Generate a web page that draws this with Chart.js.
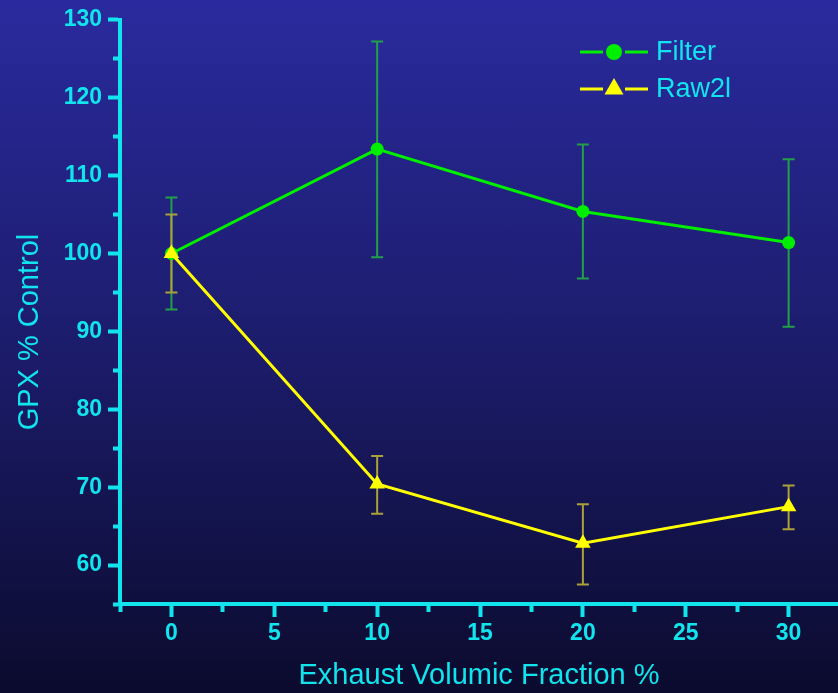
<!DOCTYPE html>
<html>
<head>
<meta charset="utf-8">
<script src="https://cdn.jsdelivr.net/npm/chart.js@4.4.1/dist/chart.umd.min.js"></script>
<style>
  html, body { margin: 0; padding: 0; }
  body { background: linear-gradient(to bottom, #2a2a9e 0%, #1c1c6c 50%, #0b0b2e 100%); width: 838px; height: 693px; }
  #wrap { width: 838px; height: 693px; }
</style>
</head>
<body>
<div id="wrap"><canvas id="gpxChart" width="838" height="693"></canvas></div>
<script>
// data
var fractions = [0, 10, 20, 30];
var filterMean = [100, 113.4, 105.4, 101.4];
var filterLow = [92.8, 99.5, 96.8, 90.6];
var filterHigh = [107.2, 127.2, 114.0, 112.1];
var rawMean = [100, 70.4, 62.8, 67.5];
var rawLow = [95.0, 66.6, 57.5, 64.6];
var rawHigh = [105.0, 74.0, 67.8, 70.2];
var xTicks = [-2.5, 0, 2.5, 5, 7.5, 10, 12.5, 15, 17.5, 20, 22.5, 25, 27.5, 30];
var yTicks = [55, 60, 65, 70, 75, 80, 85, 90, 95, 100, 105, 110, 115, 120, 125, 130];

var cyan = '#12e4ee';
var fontFamily = "'Liberation Sans', Arial, sans-serif";

function toPoints(xs, ys) {
    return xs.map(function (x, i) { return { x: x, y: ys[i] }; });
}

// error bars drawn under the lines
var errorBars = {
    id: 'errorBars',
    beforeDatasetsDraw: function (chart) {
        var ctx = chart.ctx;
        var xs = chart.scales.x, ys = chart.scales.y;
        chart.data.datasets.forEach(function (ds) {
            ctx.save();
            ctx.strokeStyle = ds.errorColor;
            ctx.lineWidth = 2;
            ds.data.forEach(function (p, i) {
                var px = xs.getPixelForValue(p.x);
                var top = ys.getPixelForValue(ds.errHigh[i]);
                var bot = ys.getPixelForValue(ds.errLow[i]);
                ctx.beginPath();
                ctx.moveTo(px, top); ctx.lineTo(px, bot);
                ctx.moveTo(px - 6, top); ctx.lineTo(px + 6, top);
                ctx.moveTo(px - 6, bot); ctx.lineTo(px + 6, bot);
                ctx.stroke();
            });
            ctx.restore();
        });
    }
};

// legend: line - marker - line, then the label
var lineLegend = {
    id: 'lineLegend',
    afterDatasetsDraw: function (chart) {
        var ctx = chart.ctx;
        var x0 = 580, x1 = 648, tx = 656;
        var rows = [52, 89];
        chart.data.datasets.forEach(function (ds, i) {
            var y = rows[i];
            var mid = (x0 + x1) / 2;
            ctx.save();
            ctx.strokeStyle = ds.borderColor;
            ctx.lineWidth = 3;
            ctx.beginPath();
            ctx.moveTo(x0, y); ctx.lineTo(mid - 11, y);
            ctx.moveTo(mid + 11, y); ctx.lineTo(x1, y);
            ctx.stroke();
            ctx.fillStyle = ds.pointBackgroundColor;
            ctx.beginPath();
            if (ds.pointStyle === 'triangle') {
                var r = 11;
                ctx.moveTo(mid, y - r);
                ctx.lineTo(mid + r * Math.sin(2 * Math.PI / 3), y - r * Math.cos(2 * Math.PI / 3));
                ctx.lineTo(mid + r * Math.sin(4 * Math.PI / 3), y - r * Math.cos(4 * Math.PI / 3));
                ctx.closePath();
            } else {
                ctx.arc(mid, y, 8, 0, Math.PI * 2);
            }
            ctx.fill();
            ctx.fillStyle = cyan;
            ctx.font = '27px ' + fontFamily;
            ctx.textBaseline = 'middle';
            ctx.fillText(ds.label, tx, y + 1);
            ctx.restore();
        });
    }
};

// minor ticks are half as long: dash pattern hides the outer part
var xMinorDash = [6, 100];
var yMinorDash = [0, 5, 5, 100];
function isMajor(ctx, step) {
    var v = ctx.tick ? ctx.tick.value : 0;
    return Math.abs(v % step) < 1e-6;
}

var ctx = document.getElementById('gpxChart').getContext('2d');
var chart = new Chart(ctx, {
    type: 'line',
    data: {
        datasets: [{
            label: 'Filter',
            data: toPoints(fractions, filterMean),
            errLow: filterLow,
            errHigh: filterHigh,
            errorColor: '#22a048',
            borderColor: '#00ee00',
            backgroundColor: '#00ee00',
            pointBackgroundColor: '#00ee00',
            pointBorderWidth: 0,
            pointStyle: 'circle',
            pointRadius: 6.5,
            borderWidth: 3,
            tension: 0,
            order: 1
        }, {
            label: 'Raw2l',
            data: toPoints(fractions, rawMean),
            errLow: rawLow,
            errHigh: rawHigh,
            errorColor: '#aaa238',
            borderColor: '#ffff00',
            backgroundColor: '#ffff00',
            pointBackgroundColor: '#ffff00',
            pointBorderWidth: 0,
            pointStyle: 'triangle',
            pointRadius: 9,
            borderWidth: 3,
            tension: 0,
            order: 0
        }]
    },
    options: {
        responsive: false,
        animation: false,
        layout: { autoPadding: false, padding: { top: 18, right: 0, bottom: 0, left: 0 } },
        plugins: {
            legend: { display: false },
            tooltip: { enabled: false }
        },
        scales: {
            x: {
                type: 'linear',
                min: -2.5,
                max: 32.4,
                afterBuildTicks: function (scale) {
                    scale.ticks = xTicks.map(function (v) { return { value: v }; });
                },
                afterFit: function (scale) {
                    scale.height = 89;
                    scale.paddingLeft = 0;
                    scale.paddingRight = 0;
                },
                border: { display: true, color: cyan, width: 4 },
                grid: {
                    drawOnChartArea: false,
                    drawTicks: true,
                    tickLength: 13,
                    tickWidth: 4,
                    tickColor: cyan,
                    tickBorderDash: function (c) { return isMajor(c, 5) ? [] : xMinorDash; }
                },
                ticks: {
                    autoSkip: false,
                    maxRotation: 0,
                    padding: 3,
                    color: cyan,
                    font: { family: fontFamily, size: 23, weight: 'bold' },
                    callback: function (v) { return v % 5 === 0 ? String(v) : ''; }
                },
                title: {
                    display: true,
                    text: 'Exhaust Volumic Fraction %',
                    color: cyan,
                    font: { family: fontFamily, size: 29 },
                    padding: { top: 0, bottom: 0 }
                }
            },
            y: {
                type: 'linear',
                min: 55,
                max: 130,
                afterBuildTicks: function (scale) {
                    scale.ticks = yTicks.map(function (v) { return { value: v }; });
                },
                afterFit: function (scale) { scale.width = 120; },
                border: { display: true, color: cyan, width: 4 },
                grid: {
                    drawOnChartArea: false,
                    drawTicks: true,
                    tickLength: 12,
                    tickWidth: 4,
                    tickColor: cyan,
                    tickBorderDash: function (c) { return isMajor(c, 10) ? [] : yMinorDash; }
                },
                ticks: {
                    autoSkip: false,
                    padding: 6,
                    color: cyan,
                    font: { family: fontFamily, size: 23, weight: 'bold' },
                    callback: function (v) { return v % 10 === 0 ? String(v) : ''; }
                },
                title: {
                    display: true,
                    text: 'GPX % Control     ',
                    color: cyan,
                    font: { family: fontFamily, size: 29 },
                    padding: { top: 13, bottom: 0 }
                }
            }
        }
    },
    plugins: [errorBars, lineLegend]
});
</script>
</body>
</html>
